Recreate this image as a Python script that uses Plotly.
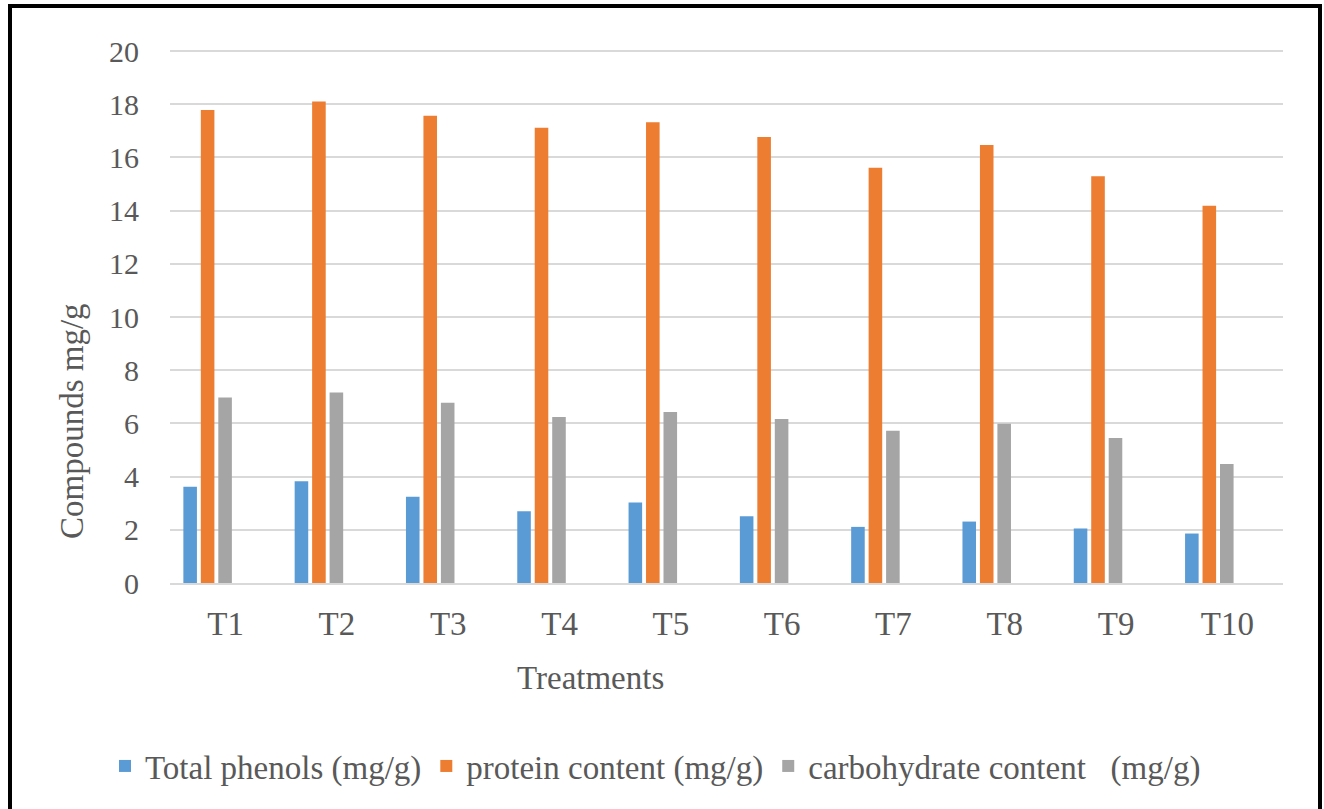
import plotly.graph_objects as go

categories = ["T1", "T2", "T3", "T4", "T5", "T6", "T7", "T8", "T9", "T10"]
total_phenols = [3.62, 3.83, 3.24, 2.70, 3.03, 2.51, 2.11, 2.31, 2.05, 1.86]
protein_content = [17.78, 18.10, 17.57, 17.12, 17.32, 16.77, 15.61, 16.47, 15.29, 14.18]
carbohydrate_content = [6.97, 7.16, 6.78, 6.24, 6.43, 6.17, 5.72, 5.99, 5.45, 4.47]
series_names = ["Total phenols (mg/g)", "protein content (mg/g)", "carbohydrate content   (mg/g)"]
y_ticks = [0, 2, 4, 6, 8, 10, 12, 14, 16, 18, 20]

colors = ["#5B9BD5", "#ED7D31", "#A5A5A5"]
offsets = [-0.38, -0.223, -0.066]
bar_width = 0.122
FONT = "Liberation Serif"
TXT = "#595959"

W, H = 1324, 809
L, R, T, B = 170, 41, 50, 226
PW, PH = W - L - R, H - T - B


def px(x):
    return (x - L) / PW


def py(y):
    return (H - B - y) / PH


fig = go.Figure()
for name, vals, col, off in zip(series_names,
                                [total_phenols, protein_content, carbohydrate_content],
                                colors, offsets):
    fig.add_trace(go.Bar(x=categories, y=vals, name=name, marker_color=col,
                         marker_line_width=0, width=bar_width, offset=off))

fig.update_layout(
    width=W, height=H,
    margin=dict(l=L, r=R, t=T, b=B),
    paper_bgcolor="white", plot_bgcolor="white",
    barmode="overlay",
    font=dict(family=FONT, size=33, color=TXT),
    showlegend=True,
    legend=dict(orientation="h", x=px(105), xanchor="left", y=py(766), yanchor="middle",
                font=dict(family=FONT, size=33, color=TXT), traceorder="normal",
                itemwidth=30),
    xaxis=dict(type="category", showgrid=False, showline=True, linecolor="#D9D9D9",
               linewidth=2, ticks="", ticklabelstandoff=10,
               tickfont=dict(family=FONT, size=33, color=TXT)),
    yaxis=dict(range=[0, 20.04], tickvals=y_ticks, showgrid=True, gridcolor="#D9D9D9",
               gridwidth=2, zeroline=False, showline=False, ticks="",
               ticklabelstandoff=30,
               tickfont=dict(family=FONT, size=30, color=TXT)),
    annotations=[
        dict(text="Treatments", xref="paper", yref="paper",
             x=px(590), y=py(678), xanchor="center", yanchor="middle",
             showarrow=False, font=dict(family=FONT, size=33, color=TXT)),
        dict(text="Compounds mg/g", xref="paper", yref="paper",
             x=px(72), y=py(421), xanchor="center", yanchor="middle",
             textangle=-90, showarrow=False, font=dict(family=FONT, size=33, color=TXT)),
    ],
    shapes=[
        dict(type="rect", xref="paper", yref="paper",
             x0=px(10), x1=px(1320), y0=py(815), y1=py(6),
             line=dict(color="black", width=4), fillcolor="rgba(0,0,0,0)", layer="above"),
    ],
)

fig.write_html("out.html", config={"displayModeBar": False},
               post_script="document.body.style.margin='0';")
